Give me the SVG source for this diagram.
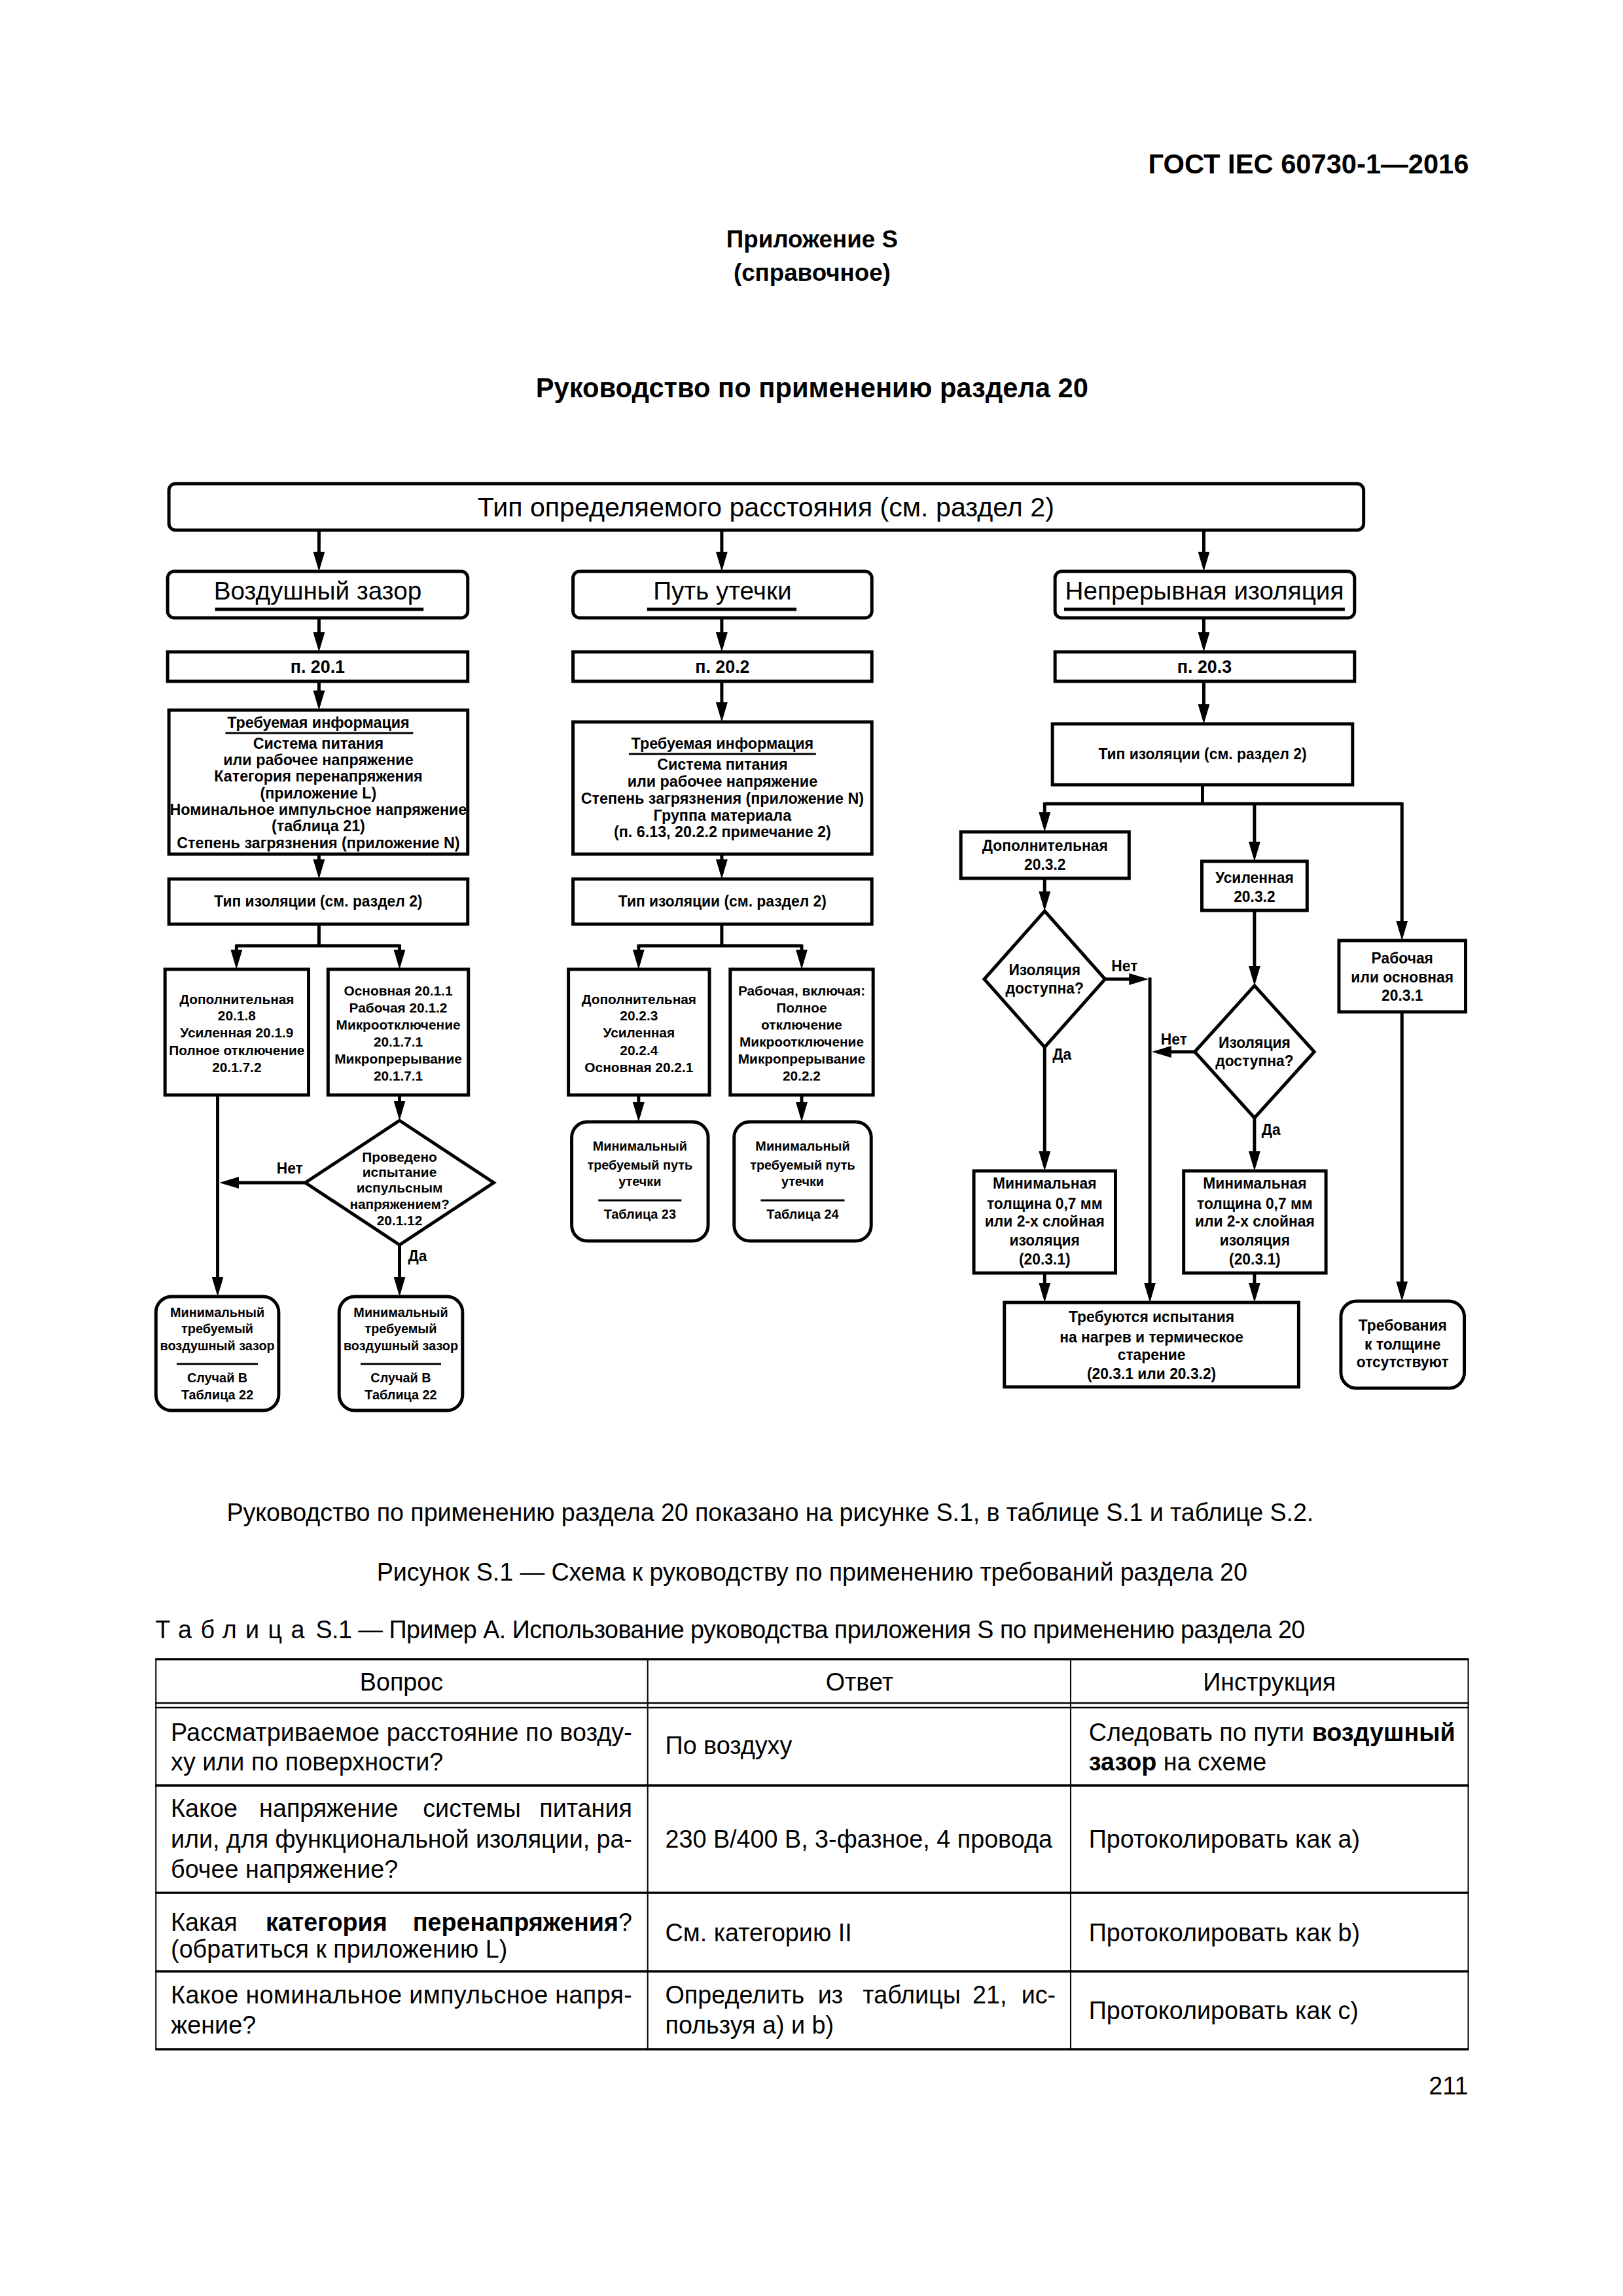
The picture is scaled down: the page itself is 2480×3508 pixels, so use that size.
<svg xmlns="http://www.w3.org/2000/svg" width="2480" height="3508" viewBox="0 0 2480 3508">
<defs>
<marker id="ah" markerUnits="userSpaceOnUse" markerWidth="30" markerHeight="18" refX="22" refY="9" orient="auto">
<path d="M0,0 L30,9 L0,18 z" fill="#000"/>
</marker>
<style>
.box{fill:#fff;stroke:#000;stroke-width:5}
.cn{fill:none;stroke:#000;stroke-width:5}
.ar{fill:none;stroke:#000;stroke-width:5;marker-end:url(#ah)}
.ul{stroke:#000;stroke-width:5}
.ul3{stroke:#000;stroke-width:3}
text{font-family:'Liberation Sans',Arial,sans-serif;fill:#000}
.m{text-anchor:middle}
.e{text-anchor:end}
.bd{font-weight:bold}
.s20{font-size:20px}
.s21{font-size:21px}
.s23{font-size:23px}
.s235{font-size:23.5px}
.s27{font-size:27px}
.s39{font-size:39px}
.s42{font-size:42px}
.s38{font-size:38px}
.tl{stroke:#000;stroke-width:3.5}
.tv{stroke:#000;stroke-width:2}
.td{stroke:#000;stroke-width:2.5}
</style>
</defs>
<rect x="0" y="0" width="2480" height="3508" fill="#fff"/>
<g id="page" transform="scale(0.9927,1)">

<g id="header">
<text x="2261" y="265" class="e bd s42">ГОСТ IEC 60730-1—2016</text>
<text x="1250" y="378" class="m bd" font-size="37">Приложение S</text>
<text x="1250" y="429" class="m bd" font-size="37">(справочное)</text>
<text x="1250" y="607" class="m bd s42">Руководство по применению раздела 20</text>
</g>

<g id="connectors">
<line x1="491" y1="810" x2="491" y2="865" class="ar"/>
<line x1="1111" y1="810" x2="1111" y2="865" class="ar"/>
<line x1="1853" y1="810" x2="1853" y2="865" class="ar"/>
<line x1="491" y1="944" x2="491" y2="988" class="ar"/>
<line x1="1111" y1="944" x2="1111" y2="988" class="ar"/>
<line x1="1853" y1="944" x2="1853" y2="988" class="ar"/>
<line x1="491" y1="1041" x2="491" y2="1077" class="ar"/>
<line x1="1111" y1="1041" x2="1111" y2="1095" class="ar"/>
<line x1="1853" y1="1041" x2="1853" y2="1098" class="ar"/>
<line x1="491" y1="1305" x2="491" y2="1335" class="ar"/>
<line x1="1111" y1="1305" x2="1111" y2="1335" class="ar"/>
<polyline points="491,1412 491,1445" class="cn"/>
<polyline points="364,1445 615,1445" class="cn"/>
<line x1="364" y1="1443" x2="364" y2="1473" class="ar"/>
<line x1="615" y1="1443" x2="615" y2="1473" class="ar"/>
<polyline points="1111,1412 1111,1445" class="cn"/>
<polyline points="983,1445 1234,1445" class="cn"/>
<line x1="983" y1="1443" x2="983" y2="1473" class="ar"/>
<line x1="1234" y1="1443" x2="1234" y2="1473" class="ar"/>
<line x1="335" y1="1673" x2="335" y2="1973" class="ar"/>
<line x1="615" y1="1673" x2="615" y2="1704" class="ar"/>
<line x1="470" y1="1807" x2="346" y2="1807" class="ar"/>
<line x1="615" y1="1902" x2="615" y2="1973" class="ar"/>
<line x1="983" y1="1673" x2="983" y2="1706" class="ar"/>
<line x1="1234" y1="1673" x2="1234" y2="1706" class="ar"/>
<polyline points="1851,1199 1851,1228" class="cn"/>
<polyline points="1608,1228 2158,1228" class="cn"/>
<line x1="1608" y1="1226" x2="1608" y2="1263" class="ar"/>
<line x1="1931" y1="1226" x2="1931" y2="1308" class="ar"/>
<line x1="2158" y1="1226" x2="2158" y2="1429" class="ar"/>
<line x1="1608" y1="1342" x2="1608" y2="1384" class="ar"/>
<line x1="1931" y1="1391" x2="1931" y2="1498" class="ar"/>
<line x1="1701" y1="1496" x2="1760" y2="1496" class="ar"/>
<line x1="1770" y1="1493.5" x2="1770" y2="1982" class="ar"/>
<line x1="1839" y1="1607" x2="1781" y2="1607" class="ar"/>
<line x1="1608" y1="1600" x2="1608" y2="1781" class="ar"/>
<line x1="1931" y1="1708" x2="1931" y2="1781" class="ar"/>
<line x1="1608" y1="1945" x2="1608" y2="1982" class="ar"/>
<line x1="1931" y1="1945" x2="1931" y2="1982" class="ar"/>
<line x1="2158" y1="1546" x2="2158" y2="1980" class="ar"/>
</g>

<g id="n-top">
<rect x="260" y="739" width="1839" height="71" rx="10" class="box"/>
<text x="1179" y="789" class="m" font-size="41.5">Тип определяемого расстояния (см. раздел 2)</text>
</g>

<g id="n-air">
<rect x="258" y="873" width="462" height="71" rx="10" class="box"/>
<text x="489" y="916" class="m s39">Воздушный зазор</text>
<line x1="331" y1="931" x2="652" y2="931" class="ul"/>
</g>
<g id="n-creep">
<rect x="882" y="873" width="460" height="71" rx="10" class="box"/>
<text x="1112" y="916" class="m s39">Путь утечки</text>
<line x1="996" y1="931" x2="1226" y2="931" class="ul"/>
</g>
<g id="n-solid">
<rect x="1624" y="873" width="461" height="71" rx="10" class="box"/>
<text x="1854" y="916" class="m s39">Непрерывная изоляция</text>
<line x1="1638" y1="931" x2="2070" y2="931" class="ul"/>
</g>

<g id="n-201"><rect x="258" y="996" width="462" height="45" class="box"/><text x="489" y="1028" class="m bd s27">п. 20.1</text></g>
<g id="n-202"><rect x="882" y="996" width="460" height="45" class="box"/><text x="1112" y="1028" class="m bd s27">п. 20.2</text></g>
<g id="n-203"><rect x="1624" y="996" width="461" height="45" class="box"/><text x="1854" y="1028" class="m bd s27">п. 20.3</text></g>

<g id="n-info1">
<rect x="260" y="1085" width="460" height="220" class="box"/>
<g class="m bd s235">
<text x="490" y="1112">Требуемая информация</text>
<text x="490" y="1144">Система питания</text>
<text x="490" y="1169">или рабочее напряжение</text>
<text x="490" y="1194">Категория перенапряжения</text>
<text x="490" y="1220">(приложение L)</text>
<text x="490" y="1245">Номинальное импульсное напряжение</text>
<text x="490" y="1270">(таблица 21)</text>
<text x="490" y="1296">Степень загрязнения (приложение N)</text>
</g>
<line x1="347" y1="1120" x2="636" y2="1120" class="ul3"/>
</g>

<g id="n-ins1">
<rect x="260" y="1343" width="460" height="69" class="box"/>
<text x="490" y="1385" class="m bd s23">Тип изоляции (см. раздел 2)</text>
</g>

<g id="n-add1">
<rect x="254" y="1481" width="221" height="192" class="box"/>
<g class="m bd s21">
<text x="364.5" y="1534">Дополнительная</text>
<text x="364.5" y="1559">20.1.8</text>
<text x="364.5" y="1585">Усиленная 20.1.9</text>
<text x="364.5" y="1612">Полное отключение</text>
<text x="364.5" y="1638">20.1.7.2</text>
</g>
</g>

<g id="n-basic1">
<rect x="505" y="1481" width="216" height="192" class="box"/>
<g class="m bd s21">
<text x="613" y="1521">Основная 20.1.1</text>
<text x="613" y="1547">Рабочая 20.1.2</text>
<text x="613" y="1573">Микроотключение</text>
<text x="613" y="1599">20.1.7.1</text>
<text x="613" y="1625">Микропрерывание</text>
<text x="613" y="1651">20.1.7.1</text>
</g>
</g>

<g id="n-dec1">
<polygon points="615,1712 760,1807 615,1902 470,1807" class="box"/>
<g class="m bd s21">
<text x="615" y="1775">Проведено</text>
<text x="615" y="1798">испытание</text>
<text x="615" y="1822">испульсным</text>
<text x="615" y="1847">напряжением?</text>
<text x="615" y="1872">20.1.12</text>
</g>
<text x="446" y="1793" class="m bd s23">Нет</text>
<text x="628" y="1927" class="bd s23">Да</text>
</g>

<g id="n-min1a">
<rect x="240" y="1981" width="189" height="174" rx="24" class="box"/>
<g class="m bd s20">
<text x="334.5" y="2012">Минимальный</text>
<text x="334.5" y="2037">требуемый</text>
<text x="334.5" y="2063">воздушный зазор</text>
<text x="334.5" y="2112">Случай В</text>
<text x="334.5" y="2138">Таблица 22</text>
</g>
<line x1="272" y1="2084" x2="397" y2="2084" class="ul3"/>
</g>

<g id="n-min1b">
<rect x="522" y="1981" width="190" height="174" rx="24" class="box"/>
<g class="m bd s20">
<text x="617" y="2012">Минимальный</text>
<text x="617" y="2037">требуемый</text>
<text x="617" y="2063">воздушный зазор</text>
<text x="617" y="2112">Случай В</text>
<text x="617" y="2138">Таблица 22</text>
</g>
<line x1="555" y1="2084" x2="679" y2="2084" class="ul3"/>
</g>

<g id="n-info2">
<rect x="882" y="1103" width="460" height="202" class="box"/>
<g class="m bd s235">
<text x="1112" y="1144">Требуемая информация</text>
<text x="1112" y="1176">Система питания</text>
<text x="1112" y="1202">или рабочее напряжение</text>
<text x="1112" y="1228">Степень загрязнения (приложение N)</text>
<text x="1112" y="1254">Группа материала</text>
<text x="1112" y="1279">(п. 6.13, 20.2.2 примечание 2)</text>
</g>
<line x1="968" y1="1152" x2="1256" y2="1152" class="ul3"/>
</g>

<g id="n-ins2">
<rect x="882" y="1343" width="460" height="69" class="box"/>
<text x="1112" y="1385" class="m bd s23">Тип изоляции (см. раздел 2)</text>
</g>

<g id="n-add2">
<rect x="875" y="1481" width="217" height="192" class="box"/>
<g class="m bd s21">
<text x="983.5" y="1534">Дополнительная</text>
<text x="983.5" y="1559">20.2.3</text>
<text x="983.5" y="1585">Усиленная</text>
<text x="983.5" y="1612">20.2.4</text>
<text x="983.5" y="1638">Основная 20.2.1</text>
</g>
</g>

<g id="n-work2">
<rect x="1124" y="1481" width="220" height="192" class="box"/>
<g class="m bd s21">
<text x="1234" y="1521">Рабочая, включая:</text>
<text x="1234" y="1547">Полное</text>
<text x="1234" y="1573">отключение</text>
<text x="1234" y="1599">Микроотключение</text>
<text x="1234" y="1625">Микропрерывание</text>
<text x="1234" y="1651">20.2.2</text>
</g>
</g>

<g id="n-min2a">
<rect x="880" y="1714" width="210" height="182" rx="24" class="box"/>
<g class="m bd s20">
<text x="985" y="1758">Минимальный</text>
<text x="985" y="1787">требуемый путь</text>
<text x="985" y="1812">утечки</text>
<text x="985" y="1862">Таблица 23</text>
</g>
<line x1="921" y1="1834" x2="1049" y2="1834" class="ul3"/>
</g>

<g id="n-min2b">
<rect x="1130" y="1714" width="211" height="182" rx="24" class="box"/>
<g class="m bd s20">
<text x="1235.5" y="1758">Минимальный</text>
<text x="1235.5" y="1787">требуемый путь</text>
<text x="1235.5" y="1812">утечки</text>
<text x="1235.5" y="1862">Таблица 24</text>
</g>
<line x1="1171" y1="1834" x2="1300" y2="1834" class="ul3"/>
</g>

<g id="n-ins3">
<rect x="1620" y="1106" width="462" height="93" class="box"/>
<text x="1851" y="1160" class="m bd s23">Тип изоляции (см. раздел 2)</text>
</g>

<g id="n-add3">
<rect x="1479" y="1271" width="259" height="71" class="box"/>
<g class="m bd s23">
<text x="1608.5" y="1300">Дополнительная</text>
<text x="1608.5" y="1329">20.3.2</text>
</g>
</g>

<g id="n-dec3a">
<polygon points="1608,1392 1701,1496 1608,1600 1515,1496" class="box"/>
<g class="m bd s23">
<text x="1608" y="1490">Изоляция</text>
<text x="1608" y="1518">доступна?</text>
</g>
<text x="1731" y="1484" class="m bd s23">Нет</text>
<text x="1620" y="1619" class="bd s23">Да</text>
</g>

<g id="n-rein3">
<rect x="1850" y="1316" width="162" height="75" class="box"/>
<g class="m bd s23">
<text x="1931" y="1349">Усиленная</text>
<text x="1931" y="1378">20.3.2</text>
</g>
</g>

<g id="n-dec3b">
<polygon points="1931,1506 2023,1607 1931,1708 1839,1607" class="box"/>
<g class="m bd s23">
<text x="1931" y="1601">Изоляция</text>
<text x="1931" y="1629">доступна?</text>
</g>
<text x="1807" y="1596" class="m bd s23">Нет</text>
<text x="1942" y="1734" class="bd s23">Да</text>
</g>

<g id="n-work3">
<rect x="2061" y="1437" width="195" height="109" class="box"/>
<g class="m bd s23">
<text x="2158.5" y="1472">Рабочая</text>
<text x="2158.5" y="1501">или основная</text>
<text x="2158.5" y="1529">20.3.1</text>
</g>
</g>

<g id="n-thick3a">
<rect x="1499" y="1789" width="218" height="156" class="box"/>
<g class="m bd s23">
<text x="1608" y="1816">Минимальная</text>
<text x="1608" y="1847">толщина 0,7 мм</text>
<text x="1608" y="1874">или 2-х слойная</text>
<text x="1608" y="1903">изоляция</text>
<text x="1608" y="1932">(20.3.1)</text>
</g>
</g>

<g id="n-thick3b">
<rect x="1822" y="1789" width="219" height="156" class="box"/>
<g class="m bd s23">
<text x="1931.5" y="1816">Минимальная</text>
<text x="1931.5" y="1847">толщина 0,7 мм</text>
<text x="1931.5" y="1874">или 2-х слойная</text>
<text x="1931.5" y="1903">изоляция</text>
<text x="1931.5" y="1932">(20.3.1)</text>
</g>
</g>

<g id="n-tests3">
<rect x="1546" y="1990" width="453" height="129" class="box"/>
<g class="m bd s23">
<text x="1772.5" y="2020">Требуются испытания</text>
<text x="1772.5" y="2051">на нагрев и термическое</text>
<text x="1772.5" y="2078">старение</text>
<text x="1772.5" y="2107">(20.3.1 или 20.3.2)</text>
</g>
</g>

<g id="n-none3">
<rect x="2064" y="1988" width="190" height="133" rx="24" class="box"/>
<g class="m bd s23">
<text x="2159" y="2033">Требования</text>
<text x="2159" y="2062">к толщине</text>
<text x="2159" y="2089">отсутствуют</text>
</g>
</g>

<g id="body-text" class="s38">
<text x="349" y="2324" textLength="1673" lengthAdjust="spacing">Руководство по применению раздела 20 показано на рисунке S.1, в таблице S.1 и таблице S.2.</text>
<text x="580" y="2415" textLength="1340" lengthAdjust="spacing">Рисунок S.1 — Схема к руководству по применению требований раздела 20</text>
<text x="239" y="2503" letter-spacing="13.5">Таблица</text>
<text x="486" y="2503" textLength="1523" lengthAdjust="spacing">S.1 — Пример А. Использование руководства приложения S по применению раздела 20</text>
</g>

<g id="table">
<line x1="239" y1="2535" x2="2261" y2="2535" class="tl"/>
<line x1="239" y1="2602" x2="2261" y2="2602" class="td"/>
<line x1="239" y1="2609" x2="2261" y2="2609" class="td"/>
<line x1="239" y1="2728" x2="2261" y2="2728" class="tl"/>
<line x1="239" y1="2892" x2="2261" y2="2892" class="tl"/>
<line x1="239" y1="3012" x2="2261" y2="3012" class="tl"/>
<line x1="239" y1="3131" x2="2261" y2="3131" class="tl"/>
<line x1="240" y1="2535" x2="240" y2="3131" class="tv"/>
<line x1="997" y1="2535" x2="997" y2="3131" class="tv"/>
<line x1="1648" y1="2535" x2="1648" y2="3131" class="tv"/>
<line x1="2260" y1="2535" x2="2260" y2="3131" class="tv"/>
<g class="s38">
<text x="618" y="2583" class="m">Вопрос</text>
<text x="1323" y="2583" class="m">Ответ</text>
<text x="1954" y="2583" class="m">Инструкция</text>

<text x="263" y="2660" textLength="710" lengthAdjust="spacing">Рассматриваемое расстояние по возду-</text>
<text x="263" y="2705">ху или по поверхности?</text>
<text x="1024" y="2680">По воздуху</text>
<text x="1676" y="2660">Следовать по пути</text>
<text x="2240" y="2660" class="e bd">воздушный</text>
<text x="1676" y="2705"><tspan class="bd">зазор</tspan> на схеме</text>

<text x="263" y="2776">Какое</text>
<text x="399" y="2776">напряжение</text>
<text x="651" y="2776">системы</text>
<text x="973" y="2776" class="e">питания</text>
<text x="263" y="2823" textLength="710" lengthAdjust="spacing">или, для функциональной изоляции, ра-</text>
<text x="263" y="2869">бочее напряжение?</text>
<text x="1024" y="2823">230 В/400 В, 3-фазное, 4 провода</text>
<text x="1676" y="2823">Протоколировать как а)</text>

<text x="263" y="2950">Какая</text>
<text x="409" y="2950" class="bd">категория</text>
<text x="973" y="2950" class="e"><tspan class="bd">перенапряжения</tspan>?</text>
<text x="263" y="2991">(обратиться к приложению L)</text>
<text x="1024" y="2966">См. категорию II</text>
<text x="1676" y="2966">Протоколировать как b)</text>

<text x="263" y="3061" textLength="710" lengthAdjust="spacing">Какое номинальное импульсное напря-</text>
<text x="263" y="3107">жение?</text>
<text x="1024" y="3061">Определить</text>
<text x="1259" y="3061">из</text>
<text x="1328" y="3061">таблицы</text>
<text x="1497" y="3061">21,</text>
<text x="1625" y="3061" class="e">ис-</text>
<text x="1024" y="3107">пользуя а) и b)</text>
<text x="1676" y="3085">Протоколировать как с)</text>
</g>
</g>

<text x="2260" y="3200" class="e s38">211</text>
</g>
</svg>
